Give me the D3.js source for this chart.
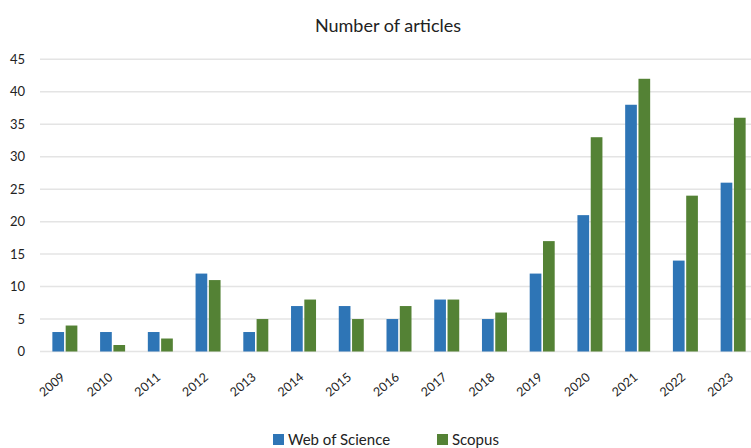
<!DOCTYPE html>
<html>
<head>
<meta charset="utf-8">
<script src="https://cdn.jsdelivr.net/npm/d3@7"></script>
<style>
  body { margin: 0; background: #fff; }
  text { font-family: "Lato", "Open Sans", sans-serif; fill: #222; }
</style>
</head>
<body>
<svg id="chart" width="751" height="448"></svg>
<script>
var years = ['2009', '2010', '2011', '2012', '2013', '2014', '2015', '2016',
             '2017', '2018', '2019', '2020', '2021', '2022', '2023'];
var wos = [3, 3, 3, 12, 3, 7, 7, 5, 8, 5, 12, 21, 38, 14, 26];
var scopus = [4, 1, 2, 11, 5, 8, 5, 7, 8, 6, 17, 33, 42, 24, 36];
var yTicks = [0, 5, 10, 15, 20, 25, 30, 35, 40, 45];
var seriesNames = ['Web of Science', 'Scopus'];
var colors = ['#2e75b6', '#548235'];

var svg = d3.select('#chart');

var x = d3.scaleBand().domain(years).range([41, 757]);
var y = d3.scaleLinear().domain([0, 45]).range([351.5, 59.3]);
var sub = d3.scaleBand().domain(seriesNames).range([-12.5, 12.5]).paddingInner(0.12);

// title
svg.append('text')
  .attr('x', 388).attr('y', 32)
  .attr('text-anchor', 'middle')
  .attr('font-size', 18)
  .text('Number of articles');

// gridlines
svg.append('g').selectAll('line')
  .data(yTicks)
  .enter().append('line')
  .attr('x1', 40).attr('x2', 751)
  .attr('y1', function(d) { return y(d); })
  .attr('y2', function(d) { return y(d); })
  .style('stroke', '#e4e4e4')
  .style('stroke-width', 1.5);

// y axis labels
var yAxis = d3.axisLeft(y).tickValues(yTicks).tickSize(0).tickPadding(0);
svg.append('g')
  .attr('transform', 'translate(25,0)')
  .call(yAxis)
  .call(function(g) { g.select('.domain').remove(); })
  .selectAll('text')
  .attr('font-size', 13)
  .style('font-family', 'Lato, sans-serif')
  .style('fill', '#222');

// bars
var rows = years.map(function(yr, i) {
  return { year: yr, vals: [{ s: seriesNames[0], v: wos[i] }, { s: seriesNames[1], v: scopus[i] }] };
});

var groups = svg.append('g').selectAll('g')
  .data(rows)
  .enter().append('g')
  .attr('transform', function(d) { return 'translate(' + (x(d.year) + x.bandwidth() / 2) + ',0)'; });

groups.selectAll('rect')
  .data(function(d) { return d.vals; })
  .enter().append('rect')
  .attr('x', function(d) { return sub(d.s); })
  .attr('width', sub.bandwidth())
  .attr('y', function(d) { return y(d.v); })
  .attr('height', function(d) { return y(0) - y(d.v); })
  .style('fill', function(d, i) { return colors[i]; });

// x axis labels
var xAxis = d3.axisBottom(x).tickSize(0).tickPadding(0);
svg.append('g')
  .attr('transform', 'translate(0,' + y(0) + ')')
  .call(xAxis)
  .call(function(g) { g.select('.domain').remove(); })
  .selectAll('text')
  .attr('font-size', 12.5)
  .style('font-family', 'Lato, sans-serif')
  .style('fill', '#222')
  .attr('text-anchor', 'end')
  .attr('dy', 0)
  .attr('transform', 'translate(1,27) rotate(-40)');

// legend
var legend = svg.append('g').selectAll('g')
  .data(seriesNames)
  .enter().append('g')
  .attr('transform', function(d, i) { return 'translate(' + [273, 437][i] + ',0)'; });

legend.append('rect')
  .attr('x', 0).attr('y', 434)
  .attr('width', 11).attr('height', 11)
  .style('fill', function(d, i) { return colors[i]; });

legend.append('text')
  .attr('x', 15).attr('y', 445)
  .attr('font-size', 15)
  .text(function(d) { return d; });
</script>
</body>
</html>
